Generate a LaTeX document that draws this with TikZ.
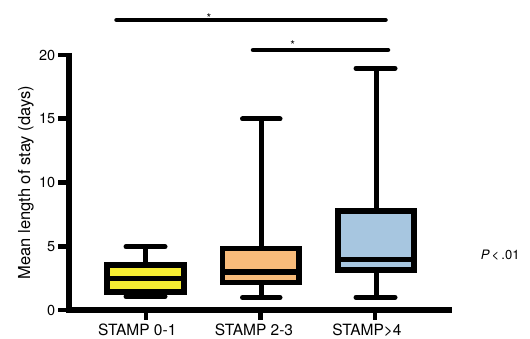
\documentclass[tikz,border=0pt]{standalone}
\usepackage{fontspec}
\setmainfont{TeX Gyre Heros}
\definecolor{boxyellow}{RGB}{245,236,50}
\definecolor{boxorange}{RGB}{248,187,122}
\definecolor{boxblue}{RGB}{167,198,224}
\begin{document}
\begin{tikzpicture}[x=1pt,y=-1pt,
  axisline/.style={line width=6pt,line join=miter},
  tickmark/.style={line width=4.5pt},
  boxstyle/.style={draw=black,line width=5.5pt},
  medline/.style={line width=5.5pt},
  whisk/.style={line width=5pt},
  capline/.style={line width=5pt,line cap=round},
  sigline/.style={line width=4.5pt,line cap=round},
  lab/.style={font=\fontsize{15.5}{18}\selectfont,inner sep=0pt},
  ticklab/.style={font=\fontsize{14.5}{17}\selectfont,inner sep=0pt,anchor=east},
  starlab/.style={font=\fontsize{12}{14}\selectfont,inner sep=0pt,anchor=base}]
\useasboundingbox (0,0) rectangle (530,339);

% axes
\draw[axisline] (69,53) -- (69,310) -- (452,310);
\foreach \v/\t in {0/0,5/5,10/10,15/15,20/20}{
  \draw[tickmark] (58,{310-12.75*\v}) -- (69,{310-12.75*\v});
  \node[ticklab] (yt\v) at (55.5,{310-12.75*\v}) {\t};
}
\foreach \x in {146,260.7,375}{
  \draw[tickmark] (\x,310) -- (\x,320);
}
\node[lab,anchor=base] (xl1) at (137.3,335.5) {STAMP 0-1};
\node[lab,anchor=base] (xl2) at (254,335.5) {STAMP 2-3};
\node[lab,anchor=base] (xl3) at (367,335.5) {STAMP>4};
\node[lab,font=\fontsize{16.5}{19}\selectfont,anchor=base,rotate=90] (ylab) at (30,182.7) {Mean length of stay (days)};

% box 1
\draw[whisk] (145.5,265) -- (145.5,246.7);
\draw[whisk] (145.5,292) -- (145.5,296.5);
\draw[capline] (126,246.7) -- (165,246.7);
\draw[capline] (126,296.5) -- (165,296.5);
\draw[boxstyle,fill=boxyellow] (107,265) rectangle (184,292);
\draw[medline] (107,278.3) -- (184,278.3);

% box 2
\draw[whisk] (261,248.7) -- (261,119);
\draw[whisk] (261,282.5) -- (261,297.5);
\draw[capline] (242.5,119) -- (280,119);
\draw[capline] (242.5,297.5) -- (280,297.5);
\draw[boxstyle,fill=boxorange] (222.5,248.7) rectangle (299,282.5);
\draw[medline] (222.5,272) -- (299,272);

% box 3
\draw[whisk] (376,210.8) -- (376,68.3);
\draw[whisk] (376,270.2) -- (376,297.3);
\draw[capline] (356,68.3) -- (395,68.3);
\draw[capline] (356,297.3) -- (395,297.3);
\draw[boxstyle,fill=boxblue] (338,210.8) rectangle (414,270.2);
\draw[medline] (338,259.7) -- (414,259.7);

% significance
\draw[sigline] (116.5,20) -- (385.5,20);
\draw[sigline] (253,50) -- (388,50);
\node[starlab] (s1) at (209,22.6) {*};
\node[starlab] (s2) at (292.7,49.6) {*};

\node[font=\fontsize{13}{15}\selectfont,inner sep=0pt,anchor=base west] (pval) at (480.7,259.3) {\itshape P\upshape\,<\,.01};
\end{tikzpicture}
\end{document}
